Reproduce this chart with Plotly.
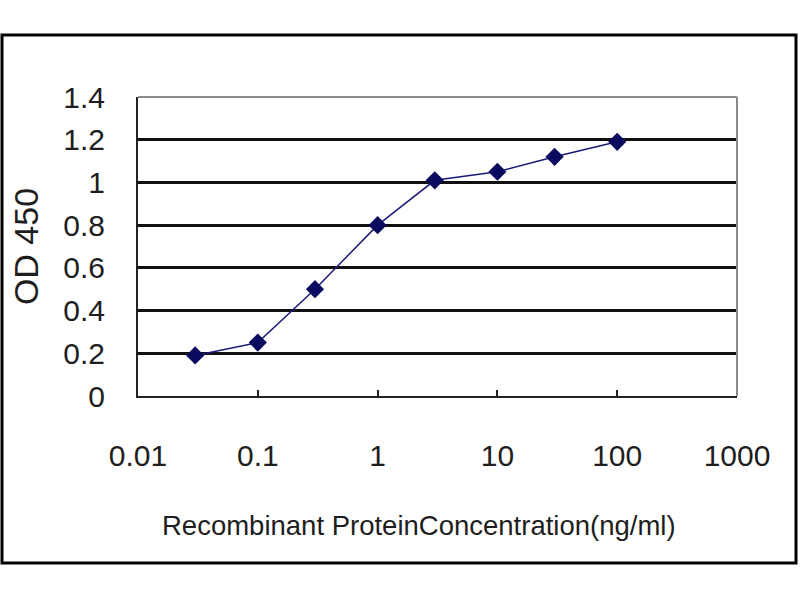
import plotly.graph_objects as go

concentration = [0.03, 0.1, 0.3, 1, 3, 10, 30, 100]
od450 = [0.19, 0.25, 0.50, 0.80, 1.01, 1.05, 1.12, 1.19]
x_tick_vals = [0.01, 0.1, 1, 10, 100, 1000]
x_tick_text = ["0.01", "0.1", "1", "10", "100", "1000"]
y_tick_vals = [0, 0.2, 0.4, 0.6, 0.8, 1.0, 1.2, 1.4]
y_tick_text = ["0", "0.2", "0.4", "0.6", "0.8", "1", "1.2", "1.4"]
x_title = "Recombinant ProteinConcentration(ng/ml)"
y_title = "OD 450"

FONT = "Liberation Sans, Arial, sans-serif"
TXT = "#1e1e1e"

fig = go.Figure()
fig.add_trace(go.Scatter(
    x=concentration, y=od450, mode="lines+markers",
    line=dict(color="#1a1a7a", width=1.5),
    marker=dict(symbol="diamond", size=14, color="#0a0a5e"),
    showlegend=False,
))

fig.update_layout(
    width=800, height=600,
    margin=dict(l=138, r=63, t=97, b=204),
    paper_bgcolor="white", plot_bgcolor="white",
    font=dict(family=FONT, color=TXT),
    xaxis=dict(
        type="log", range=[-2, 3],
        tickvals=x_tick_vals, ticktext=x_tick_text,
        tickfont=dict(size=30, family=FONT, color=TXT),
        ticks="inside", ticklen=6, tickwidth=2, tickcolor="#222",
        showgrid=False, zeroline=False,
        showline=True, linecolor="#222", linewidth=2,
        ticklabelstandoff=32,
    ),
    yaxis=dict(
        range=[0, 1.4],
        tickvals=y_tick_vals, ticktext=y_tick_text,
        tickfont=dict(size=30, family=FONT, color=TXT),
        ticks="", showgrid=True, gridcolor="#111111", gridwidth=2.5,
        zeroline=False,
        showline=True, linecolor="#222", linewidth=2,
        ticklabelstandoff=25,
        title=dict(text=y_title, font=dict(size=34, family=FONT, color=TXT), standoff=14),
    ),
    annotations=[
        dict(text=x_title, xref="paper", yref="paper",
             x=(419 - 138) / 599, y=(396 - 525) / 299,
             xanchor="center", yanchor="middle", showarrow=False,
             font=dict(size=27.5, family=FONT, color=TXT)),
    ],
    shapes=[
        # plot-area border (top and right, gray)
        dict(type="line", xref="paper", yref="paper", x0=0, x1=1, y0=1, y1=1,
             line=dict(color="#8a8a8a", width=2), layer="above"),
        dict(type="line", xref="paper", yref="paper", x0=1, x1=1, y0=0, y1=1,
             line=dict(color="#8a8a8a", width=2), layer="above"),
        # outer chart frame
        dict(type="rect", xref="paper", yref="paper",
             x0=(2 - 138) / 599, x1=(796 - 138) / 599,
             y0=(396 - 563) / 299, y1=(396 - 35) / 299,
             line=dict(color="black", width=3), fillcolor="rgba(0,0,0,0)", layer="above"),
    ],
)

fig.write_html("out.html", config={"displayModeBar": False},
               post_script="document.body.style.margin='0';")
